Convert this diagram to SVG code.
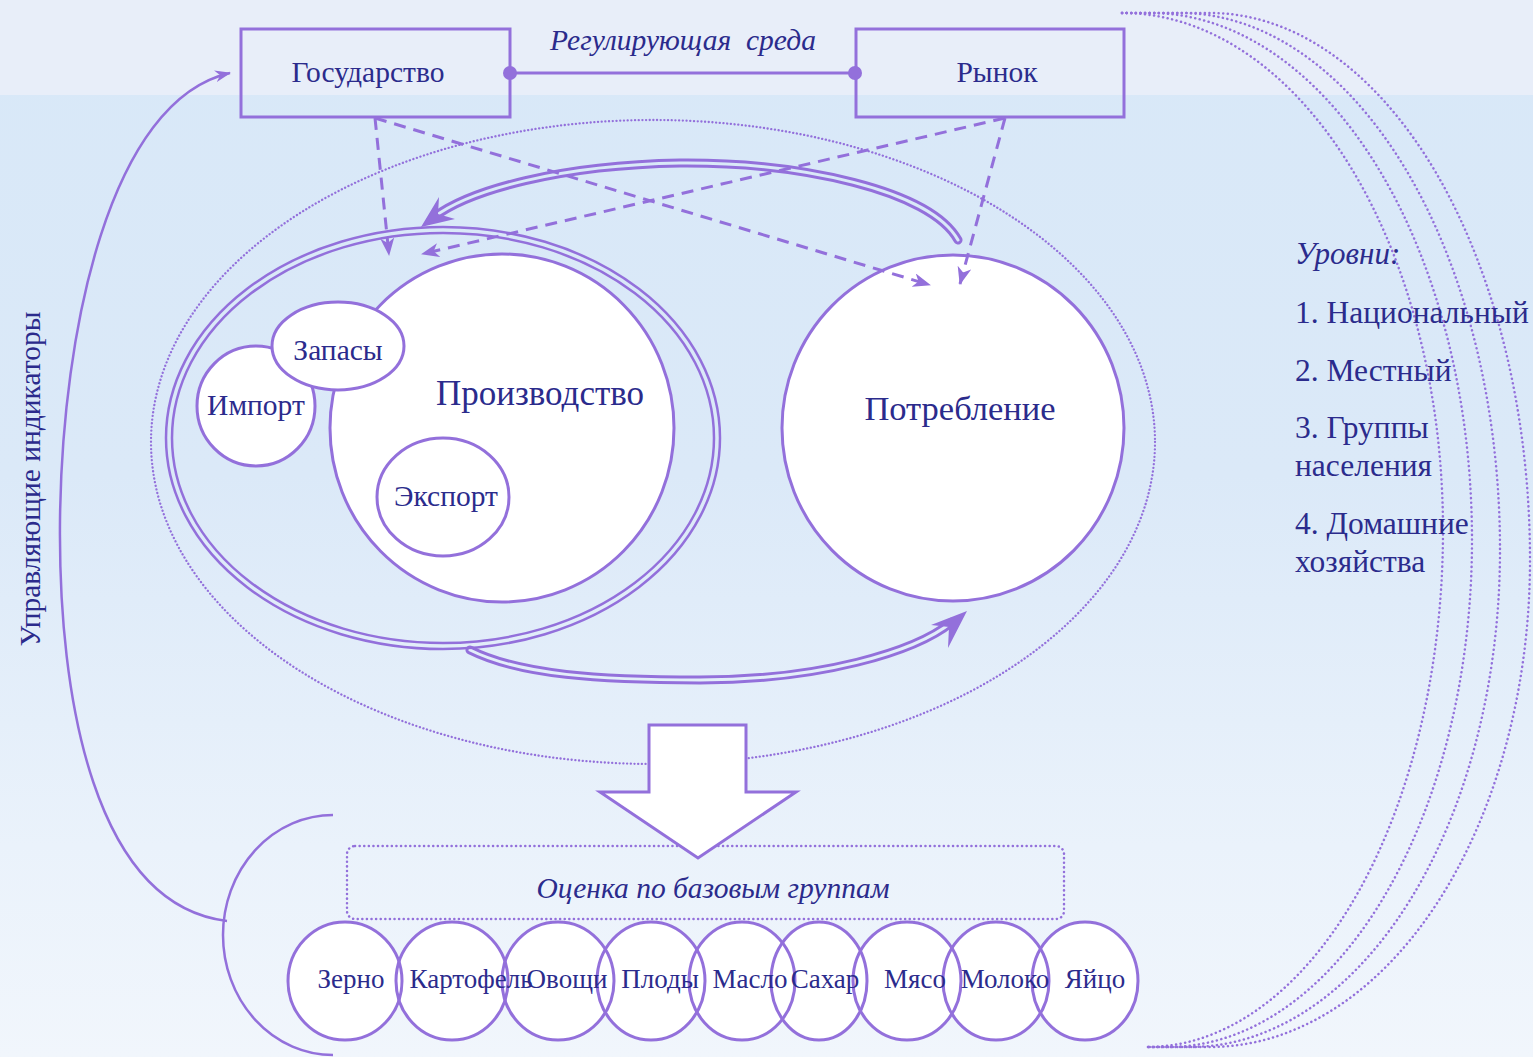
<svg xmlns="http://www.w3.org/2000/svg" xmlns:xlink="http://www.w3.org/1999/xlink" width="1533" height="1057" viewBox="0 0 1533 1057">
<defs>
<style>
.ln{fill:none;stroke:#9370DB;stroke-width:2.5}
.box{fill:none;stroke:#9370DB;stroke-width:3}
.dash{fill:none;stroke:#9370DB;stroke-width:3;stroke-dasharray:12 8}
.dot{fill:none;stroke:#9370DB;stroke-width:2.5;stroke-dasharray:0.1 4.5;stroke-linecap:round}
.dotf{fill:none;stroke:#9370DB;stroke-width:2.3;stroke-dasharray:0.1 3.6;stroke-linecap:round}
.node{fill:#fff;stroke:#9370DB;stroke-width:3}
.t{font-family:"Liberation Serif","Times New Roman",serif;fill:#2b2b8c;text-anchor:middle;font-size:29.5px}
.c{font-size:27px}
.ti{font-style:italic}
.lv{font-family:"Liberation Serif","Times New Roman",serif;fill:#2b2b8c;font-size:31.5px}
</style>
<linearGradient id="bg" x1="0" y1="0" x2="0" y2="1">
<stop offset="0" stop-color="#d8e8f8"/>
<stop offset="0.45" stop-color="#dbe9f8"/>
<stop offset="0.8" stop-color="#eaf2fb"/>
<stop offset="1" stop-color="#f1f6fc"/>
</linearGradient>
<marker id="mDash" viewBox="0 0 18 14" refX="17" refY="7" markerWidth="18" markerHeight="14" markerUnits="userSpaceOnUse" orient="auto"><path d="M0,0 L18,7 L0,14 L5,7 z" fill="#9370DB"/></marker>
<marker id="mThin" viewBox="0 0 16 12" refX="15" refY="6" markerWidth="16" markerHeight="12" markerUnits="userSpaceOnUse" orient="auto"><path d="M0,0 L16,6 L0,12 L5,6 z" fill="#9370DB"/></marker>
<path id="pTop" d="M958,240 C930,190 800,162 680,163 C560,165 470,190 434,217"/>
<path id="pBot" d="M470,650 C520,675 600,680 700,680 C820,680 915,652 952,622"/>
<mask id="hollow" maskUnits="userSpaceOnUse" x="0" y="0" width="1533" height="1057">
<rect width="1533" height="1057" fill="#fff"/>
<use xlink:href="#pTop" fill="none" stroke="#000" stroke-width="3" stroke-linecap="round"/>
<use xlink:href="#pBot" fill="none" stroke="#000" stroke-width="3" stroke-linecap="round"/>
</mask>
</defs>

<rect width="1533" height="1057" fill="url(#bg)"/>
<rect width="1533" height="95" fill="#e8eef9"/>

<g id="environment">
<ellipse class="dotf" cx="653" cy="442" rx="502" ry="322"/>
</g>

<g id="state">
<rect class="box" x="241" y="29" width="269" height="88"/>
<text class="t" x="368" y="82">Государство</text>
</g>
<g id="market">
<rect class="box" x="856" y="29" width="268" height="88"/>
<text class="t" x="997" y="82">Рынок</text>
</g>

<g id="production-zone">
<ellipse class="ln" cx="443" cy="438" rx="277" ry="211"/>
<ellipse class="ln" cx="443" cy="438" rx="271" ry="205"/>
</g>
<g id="production">
<ellipse class="node" cx="502" cy="428" rx="172" ry="174"/>
<text class="t" x="540" y="405" style="font-size:35px">Производство</text>
</g>
<g id="import">
<ellipse class="node" cx="256" cy="406" rx="59" ry="60"/>
<text class="t" x="256" y="415">Импорт</text>
</g>
<g id="stocks">
<ellipse class="node" cx="338" cy="346" rx="66" ry="44"/>
<text class="t" x="338" y="360">Запасы</text>
</g>
<g id="export">
<ellipse class="node" cx="443" cy="497" rx="66" ry="59"/>
<text class="t" x="446" y="506">Экспорт</text>
</g>
<g id="consumption">
<ellipse class="node" cx="953" cy="428" rx="171" ry="173"/>
<text class="t" x="960" y="420" style="font-size:34.5px">Потребление</text>
</g>

<g id="connectors">
<line class="box" x1="510" y1="73" x2="856" y2="73"/>
<circle cx="510" cy="73" r="7" fill="#9370DB"/>
<circle cx="855" cy="73" r="7" fill="#9370DB"/>
<path class="dash" d="M375,118 L389,255" marker-end="url(#mDash)"/>
<path class="dash" d="M375,118 L930,285" marker-end="url(#mDash)"/>
<path class="dash" d="M1005,118 L422,254" marker-end="url(#mDash)"/>
<path class="dash" d="M1005,118 L960,284" marker-end="url(#mDash)"/>
<use xlink:href="#pTop" fill="none" stroke="#9370DB" stroke-width="9" stroke-linecap="round" mask="url(#hollow)"/>
<polygon points="421,227 439,197 438,214 455,219" fill="#9370DB"/>
<use xlink:href="#pBot" fill="none" stroke="#9370DB" stroke-width="9" stroke-linecap="round" mask="url(#hollow)"/>
<polygon points="967,611 948,648 949,627 931,625" fill="#9370DB"/>
<path class="ln" d="M227,921 C95,905 58,700 60,520 C62,330 110,100 230,73" marker-end="url(#mThin)"/>
<path class="ln" d="M333,815 A110,120 0 0 0 333,1055"/>
<path class="dot" d="M1122,13 A321,517 0 0 1 1443,530 A296,517 0 0 1 1147,1047"/>
<path class="dot" d="M1122,13 L1150,13 A322,527 0 0 1 1472,540 A304,507 0 0 1 1168,1047 L1147,1047"/>
<path class="dot" d="M1122,13 L1180,13 A320,537 0 0 1 1500,550 A310,497 0 0 1 1190,1047 L1147,1047"/>
<path class="dot" d="M1122,13 L1210,13 A320,547 0 0 1 1530,560 A320,487 0 0 1 1210,1047 L1147,1047"/>
</g>

<g id="label-environment">
<text class="t ti" x="683" y="50">Регулирующая&#160; среда</text>
</g>

<g id="assessment">
<rect class="dot" x="347" y="846" width="717" height="73" rx="8"/>
<text class="t ti" x="713" y="898">Оценка по базовым группам</text>
</g>

<g id="arrow-down">
<polygon class="node" points="649,725 746,725 746,792 796,792 698,858 600,792 649,792"/>
</g>

<g id="cells">
<g id="cell-zerno" fill="#fff"><ellipse id="e1" cx="345" cy="981" rx="57" ry="59"/></g>
<g id="cell-kartofel" fill="#fff"><ellipse id="e2" cx="452" cy="981" rx="56" ry="59"/></g>
<g id="cell-ovoshchi" fill="#fff"><ellipse id="e3" cx="558" cy="981" rx="56" ry="59"/></g>
<g id="cell-plody" fill="#fff"><ellipse id="e4" cx="651" cy="981" rx="54" ry="59"/></g>
<g id="cell-maslo" fill="#fff"><ellipse id="e5" cx="742" cy="981" rx="53" ry="59"/></g>
<g id="cell-sakhar" fill="#fff"><ellipse id="e6" cx="819" cy="981" rx="48" ry="59"/></g>
<g id="cell-myaso" fill="#fff"><ellipse id="e7" cx="907" cy="981" rx="54" ry="59"/></g>
<g id="cell-moloko" fill="#fff"><ellipse id="e8" cx="996" cy="981" rx="53" ry="59"/></g>
<g id="cell-yaitso" fill="#fff"><ellipse id="e9" cx="1085" cy="981" rx="53" ry="59"/></g>
<g fill="none" stroke="#9370DB" stroke-width="3">
<use xlink:href="#e1"/><use xlink:href="#e2"/><use xlink:href="#e3"/><use xlink:href="#e4"/><use xlink:href="#e5"/><use xlink:href="#e6"/><use xlink:href="#e7"/><use xlink:href="#e8"/><use xlink:href="#e9"/>
</g>
<text class="t c" x="351" y="988">Зерно</text>
<text class="t c" x="471" y="988">Картофель</text>
<text class="t c" x="567" y="988">Овощи</text>
<text class="t c" x="660" y="988">Плоды</text>
<text class="t c" x="750" y="988">Масло</text>
<text class="t c" x="825" y="988">Сахар</text>
<text class="t c" x="915" y="988">Мясо</text>
<text class="t c" x="1005" y="988">Молоко</text>
<text class="t c" x="1095" y="988">Яйцо</text>
</g>

<g id="control-label">
<text class="t" transform="translate(40,479) rotate(-90)">Управляющие индикаторы</text>
</g>

<g id="levels">
<text class="lv ti" x="1295" y="264" style="font-size:31px">Уровни:</text>
<text class="lv" x="1295" y="323">1. Национальный</text>
<text class="lv" x="1295" y="381">2. Местный</text>
<text class="lv" x="1295" y="438">3. Группы</text>
<text class="lv" x="1295" y="476">населения</text>
<text class="lv" x="1295" y="534">4. Домашние</text>
<text class="lv" x="1295" y="572">хозяйства</text>
</g>
</svg>
